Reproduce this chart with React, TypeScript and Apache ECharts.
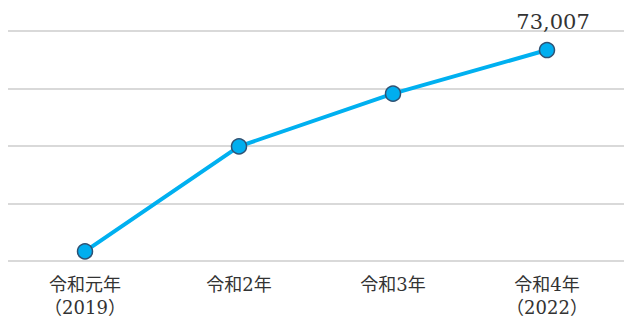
import React, { useEffect, useRef } from "react";
import * as echarts from "echarts";

const categories = ["令和元年\n（2019）", "令和2年", "令和3年", "令和4年\n（2022）"];
const values = [62500, 67980, 70730, 73007];
const yMin = 62000;
const yMax = 74000;
const yInterval = 3000;

export default function App() {
  const ref = useRef<HTMLDivElement>(null);
  useEffect(() => {
    if (!ref.current) return;
    const chart = echarts.init(ref.current, null, { renderer: "svg" });
    const last = values.length - 1;
    chart.setOption({
      animation: false,
      grid: { left: 8, right: 0, top: 31, bottom: 54, containLabel: false },
      xAxis: {
        type: "category",
        data: categories,
        boundaryGap: true,
        axisLine: { show: false },
        axisTick: { show: false },
        axisLabel: {
          margin: 12,
          fontSize: 18,
          lineHeight: 23,
          color: "#333",
          fontFamily: "'DejaVu Serif', 'Noto Sans CJK JP', serif",
        },
      },
      yAxis: {
        type: "value",
        min: yMin,
        max: yMax,
        interval: yInterval,
        axisLabel: { show: false },
        axisLine: { show: false },
        axisTick: { show: false },
        splitLine: { show: true, lineStyle: { color: "#d9d9d9", width: 2 } },
      },
      series: [
        {
          type: "line",
          data: values.map((v, i) => ({
            value: v,
            label: {
              show: i === last,
              position: "top",
              distance: 9,
              offset: [6, 0],
              formatter: (p: any) => Number(p.value).toLocaleString("en-US"),
              fontSize: 21,
              color: "#333",
              fontFamily: "'DejaVu Serif', serif",
            },
          })),
          lineStyle: { color: "#00b0f0", width: 4 },
          symbol: "circle",
          symbolSize: 15,
          itemStyle: { color: "#00aeef", borderColor: "#2f5274", borderWidth: 1.5 },
        },
      ],
    });
    return () => chart.dispose();
  }, []);
  return <div ref={ref} style={{ width: 624, height: 319, position: "absolute", left: 0, top: 0 }} />;
}
